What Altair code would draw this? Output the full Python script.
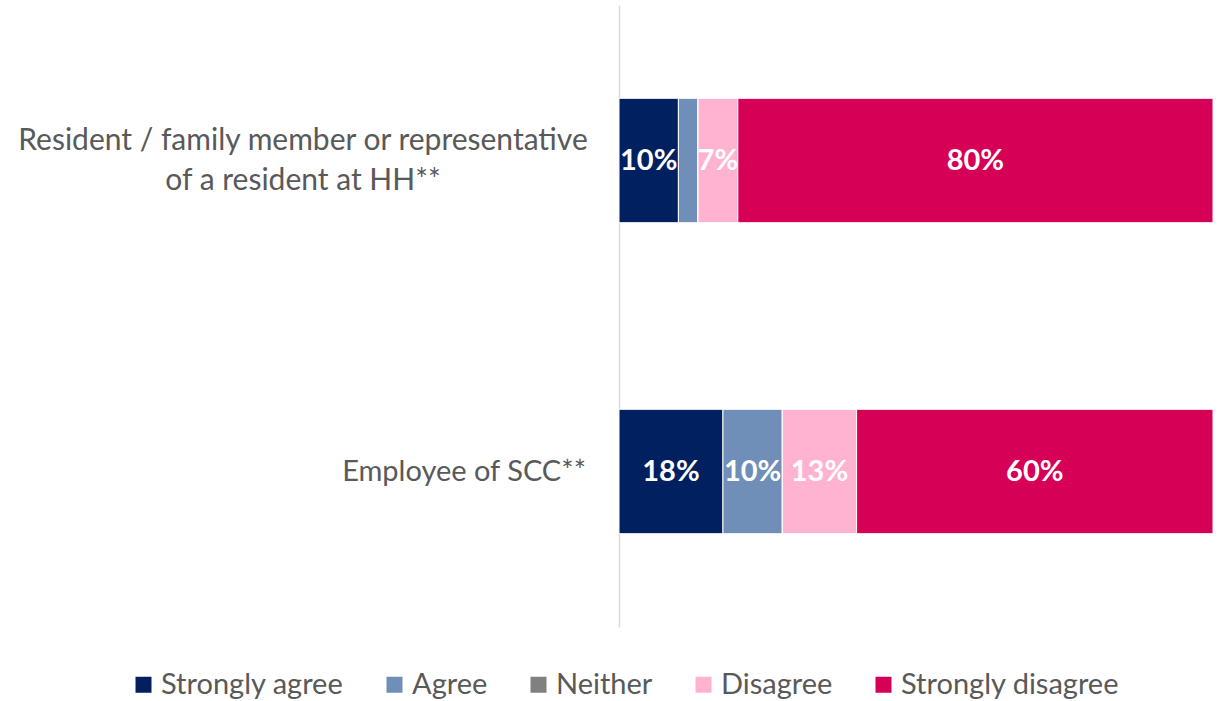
import altair as alt
import pandas as pd

# Survey respondents and answer scale
groups = [
    "Resident / family member or representative of a resident at HH**",
    "Employee of SCC**",
]
group_labels = [
    "Resident / family member or representative\nof a resident at HH**",
    "Employee of SCC**",
]
responses = ["Strongly agree", "Agree", "Neither", "Disagree", "Strongly disagree"]
colors = ["#002060", "#6F8FB8", "#808080", "#FFB3D1", "#D60057"]

# Share of respondents (%) per answer, in the order of `responses`
resident = [10.0, 3.3, 0.0, 6.7, 80.0]
employee = [17.5, 10.0, 0.0, 12.5, 60.0]

rows = []
for g, gl, vals in zip(groups, group_labels, [resident, employee]):
    for i, (r, v) in enumerate(zip(responses, vals)):
        rows.append({"group": g, "glabel": gl, "response": r, "order": i, "value": v})
df = pd.DataFrame(rows)

W, H = 594, 622
FONT = "Lato"
GREY = "#595959"

base = alt.Chart(df).transform_stack(
    stack="value", groupby=["group"], sort=[alt.SortField("order")], as_=["x0", "x1"]
)

y_enc = alt.Y(
    "group:N",
    sort=groups,
    scale=alt.Scale(paddingInner=0.6, paddingOuter=0.3),
    axis=alt.Axis(labels=False, ticks=False, title=None, domain=True,
                  domainColor="#D9D9D9", domainWidth=1.5, grid=False),
)

bars = base.mark_bar(stroke="white", strokeWidth=1).encode(
    y=y_enc,
    x=alt.X("x0:Q", scale=alt.Scale(domain=[0, 100]), axis=None),
    x2="x1:Q",
    color=alt.Color(
        "response:N",
        sort=responses,
        scale=alt.Scale(domain=responses, range=colors),
        legend=alt.Legend(
            title=None, orient="none", direction="horizontal",
            legendX=-490, legendY=665, symbolType="square", symbolSize=256,
            symbolStrokeWidth=0, labelFont=FONT, labelFontSize=29,
            labelColor=GREY, labelOffset=3, columnPadding=36, labelLimit=0,
        ),
    ),
)

values = base.transform_filter("datum.value >= 5").transform_calculate(
    mid="(datum.x0 + datum.x1) / 2",
    label="format(round(datum.value), 'd') + '%'",
).mark_text(font=FONT, fontSize=29, fontWeight="bold", color="white").encode(
    y=alt.Y("group:N", sort=groups),
    x=alt.X("mid:Q"),
    text="label:N",
)

cat_first = alt.Chart(df).transform_filter(
    alt.datum.group == groups[0]
).transform_aggregate(n="count()", groupby=["group", "glabel"]).mark_text(
    font=FONT, fontSize=30, color=GREY, align="center", lineBreak="\n",
    lineHeight=40, dy=-20,
).encode(
    y=alt.Y("group:N", sort=groups),
    x=alt.value(-316),
    text="glabel:N",
)

cat_second = alt.Chart(df).transform_filter(
    alt.datum.group == groups[1]
).transform_aggregate(n="count()", groupby=["group", "glabel"]).mark_text(
    font=FONT, fontSize=29, color=GREY, align="right",
).encode(
    y=alt.Y("group:N", sort=groups),
    x=alt.value(-33),
    text="glabel:N",
)

chart = alt.layer(bars, values, cat_first, cat_second).properties(
    width=W,
    height=H,
    background="white",
    autosize=alt.AutoSizeParams(type="none"),
    padding={"left": 619, "top": 5, "right": 10, "bottom": 74},
).configure_view(strokeWidth=0, stroke="transparent")

chart.save("out.html", embed_options={"renderer": "svg", "actions": False})
